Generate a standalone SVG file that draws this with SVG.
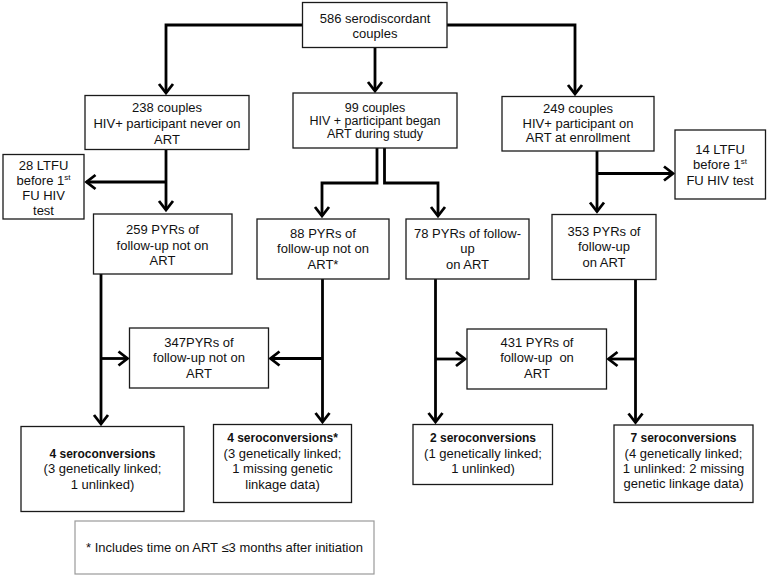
<svg xmlns="http://www.w3.org/2000/svg" width="768" height="577" viewBox="0 0 768 577">
<style>
  .box { fill: #fff; stroke: #1a1a1a; stroke-width: 1.3; }
  .note { fill: #fff; stroke: #9a9a9a; stroke-width: 1.2; }
  text { font-family: "Liberation Sans", Arial, sans-serif; font-size: 13px; fill: #111; text-anchor: middle; }
  .b { font-weight: bold; font-size: 12px; }
  .sm { font-size: 12.5px; }
  .conn path { fill: none; stroke: #000; stroke-width: 2.8; }
  .sup { font-size: 8px; }
</style>
<defs>
  <marker id="arr" markerUnits="userSpaceOnUse" viewBox="-2 -9 14 18" markerWidth="14" markerHeight="18" refX="9" refY="0" orient="auto" overflow="visible">
    <path d="M0,-7 L9,0 L0,7" fill="none" stroke="#000" stroke-width="2.8"/>
  </marker>
</defs>
<rect width="768" height="577" fill="#fff"/>

<g class="conn">
  <path d="M303,25 H166 V93" marker-end="url(#arr)"/>
  <path d="M375,47.5 V91" marker-end="url(#arr)"/>
  <path d="M447,25 H575 V94" marker-end="url(#arr)"/>
  <path d="M166,150 V210" marker-end="url(#arr)"/>
  <path d="M166,182 H86.5" marker-end="url(#arr)"/>
  <path d="M377,148 V183 H322 V216" marker-end="url(#arr)"/>
  <path d="M384.5,148 V183 H438 V216" marker-end="url(#arr)"/>
  <path d="M597,151 V211.5" marker-end="url(#arr)"/>
  <path d="M597,173.5 H673" marker-end="url(#arr)"/>
  <path d="M101,274 V424" marker-end="url(#arr)"/>
  <path d="M101,358.5 H127.5" marker-end="url(#arr)"/>
  <path d="M322.5,279 V422" marker-end="url(#arr)"/>
  <path d="M322.5,358.5 H270.5" marker-end="url(#arr)"/>
  <path d="M435.5,279 V422" marker-end="url(#arr)"/>
  <path d="M435.5,359 H465" marker-end="url(#arr)"/>
  <path d="M635.5,279.5 V422.5" marker-end="url(#arr)"/>
  <path d="M635.5,359 H608.5" marker-end="url(#arr)"/>
</g>

<g id="n586">
  <rect class="box" x="302.5" y="2.5" width="144.5" height="45"/>
  <text x="375" y="23">586 serodiscordant</text>
  <text x="375" y="38">couples</text>
</g>
<g id="n238">
  <rect class="box" x="85" y="95.5" width="164" height="54"/>
  <text x="167" y="112">238 couples</text>
  <text x="167" y="128">HIV+ participant never on</text>
  <text x="167" y="143.5">ART</text>
</g>
<g id="n99">
  <rect class="box" x="293" y="93" width="164" height="55"/>
  <text class="sm" x="375" y="111.5">99 couples</text>
  <text class="sm" x="375" y="124.5">HIV + participant began</text>
  <text class="sm" x="375" y="137.5">ART during study</text>
</g>
<g id="n249">
  <rect class="box" x="502" y="96.5" width="152" height="54.5"/>
  <text x="578" y="113">249 couples</text>
  <text x="578" y="127.5">HIV+ participant on</text>
  <text x="578" y="142">ART at enrollment</text>
</g>
<g id="n14">
  <rect class="box" x="675" y="130" width="90.5" height="69"/>
  <text x="720" y="154">14 LTFU</text>
  <text x="720" y="169">before 1<tspan class="sup" dy="-5">st</tspan></text>
  <text x="720" y="185">FU HIV test</text>
</g>
<g id="n28">
  <rect class="box" x="3" y="154.5" width="81" height="64.5"/>
  <text x="43.5" y="170">28 LTFU</text>
  <text x="43.5" y="185">before 1<tspan class="sup" dy="-5">st</tspan></text>
  <text x="43.5" y="200">FU HIV</text>
  <text x="43.5" y="215">test</text>
</g>
<g id="n259">
  <rect class="box" x="93.5" y="214" width="138.5" height="60"/>
  <text x="162.5" y="234">259 PYRs of</text>
  <text x="162.5" y="250">follow-up not on</text>
  <text x="162.5" y="265">ART</text>
</g>
<g id="n88">
  <rect class="box" x="257" y="219" width="132" height="60"/>
  <text x="323" y="238">88 PYRs of</text>
  <text x="323" y="253">follow-up not on</text>
  <text x="323" y="269">ART*</text>
</g>
<g id="n78">
  <rect class="box" x="406" y="219" width="123" height="60"/>
  <text x="467.5" y="238">78 PYRs of follow-</text>
  <text x="467.5" y="253">up</text>
  <text x="467.5" y="269">on ART</text>
</g>
<g id="n353">
  <rect class="box" x="552" y="214.5" width="104" height="65"/>
  <text x="604" y="236">353 PYRs of</text>
  <text x="604" y="251">follow-up</text>
  <text x="604" y="267">on ART</text>
</g>
<g id="n347">
  <rect class="box" x="129.5" y="328" width="139" height="60"/>
  <text x="199" y="347">347PYRs of</text>
  <text x="199" y="362">follow-up not on</text>
  <text x="199" y="378">ART</text>
</g>
<g id="n431">
  <rect class="box" x="467" y="329" width="139.5" height="60"/>
  <text x="537" y="347">431 PYRs of</text>
  <text x="537" y="362" xml:space="preserve">follow-up  on</text>
  <text x="537" y="378">ART</text>
</g>
<g id="s4">
  <rect class="box" x="21" y="426.5" width="163" height="85"/>
  <text class="b" x="102.5" y="458">4 seroconversions</text>
  <text x="102.5" y="473">(3 genetically linked;</text>
  <text x="102.5" y="488.5">1 unlinked)</text>
</g>
<g id="s4star">
  <rect class="box" x="213.5" y="424.5" width="138" height="78"/>
  <text class="b" x="282.5" y="442">4 seroconversions*</text>
  <text x="282.5" y="457.5">(3 genetically linked;</text>
  <text x="282.5" y="473">1 missing genetic</text>
  <text x="282.5" y="488.5">linkage data)</text>
</g>
<g id="s2">
  <rect class="box" x="413" y="424.5" width="139.5" height="60"/>
  <text class="b" x="483" y="442">2 seroconversions</text>
  <text x="483" y="457.5">(1 genetically linked;</text>
  <text x="483" y="473">1 unlinked)</text>
</g>
<g id="s7">
  <rect class="box" x="614" y="425" width="139" height="77.5"/>
  <text class="b" x="683.5" y="442">7 seroconversions</text>
  <text x="683.5" y="457.5">(4 genetically linked;</text>
  <text x="683.5" y="473">1 unlinked: 2 missing</text>
  <text x="683.5" y="488">genetic linkage data)</text>
</g>
<g id="footnote">
  <rect class="note" x="75" y="521" width="299" height="53"/>
  <text x="224.5" y="552">* Includes time on ART ≤3 months after initiation</text>
</g>
</svg>
